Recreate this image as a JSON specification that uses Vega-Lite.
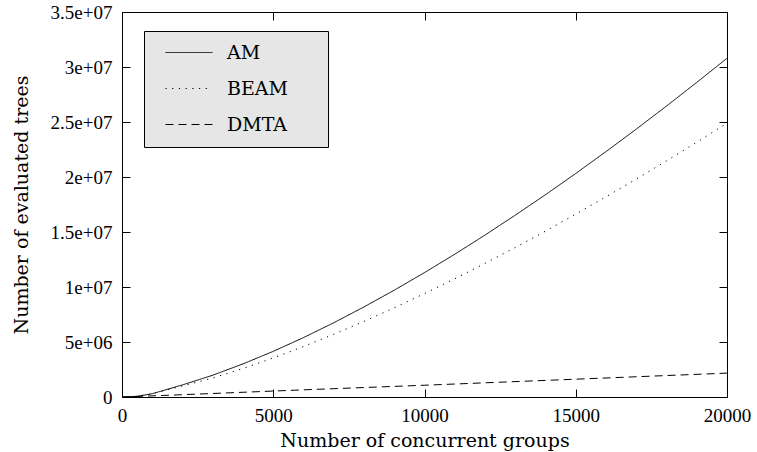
{
  "$schema": "https://vega.github.io/schema/vega-lite/v6.json",
  "width": 605,
  "height": 385,
  "autosize": {"type": "none"},
  "padding": {"left": 122, "top": 12, "right": 30, "bottom": 55},
  "background": "white",
  "config": {
    "view": {"stroke": "black", "strokeWidth": 1},
    "axis": {
      "domain": false,
      "grid": false,
      "tickColor": "black",
      "tickSize": 8,
      "offset": -8,
      "labelFlush": false,
      "labelFont": "Liberation Serif",
      "labelFontSize": 19,
      "labelColor": "black",
      "titleFont": "DejaVu Serif",
      "titleFontSize": 19,
      "titleFontWeight": "normal",
      "titleColor": "black"
    },
    "legend": {
      "labelFont": "DejaVu Serif",
      "labelFontSize": 19,
      "labelColor": "black"
    }
  },
  "data": {
    "values": [
      {"groups": 0, "trees": 0, "algorithm": "AM"},
      {"groups": 500, "trees": 60000, "algorithm": "AM"},
      {"groups": 1000, "trees": 300000, "algorithm": "AM"},
      {"groups": 2000, "trees": 1100000, "algorithm": "AM"},
      {"groups": 3000, "trees": 1980000, "algorithm": "AM"},
      {"groups": 4000, "trees": 3010000, "algorithm": "AM"},
      {"groups": 5000, "trees": 4150000, "algorithm": "AM"},
      {"groups": 6000, "trees": 5400000, "algorithm": "AM"},
      {"groups": 7000, "trees": 6750000, "algorithm": "AM"},
      {"groups": 8000, "trees": 8190000, "algorithm": "AM"},
      {"groups": 9000, "trees": 9710000, "algorithm": "AM"},
      {"groups": 10000, "trees": 11310000, "algorithm": "AM"},
      {"groups": 11000, "trees": 12980000, "algorithm": "AM"},
      {"groups": 12000, "trees": 14720000, "algorithm": "AM"},
      {"groups": 13000, "trees": 16530000, "algorithm": "AM"},
      {"groups": 14000, "trees": 18390000, "algorithm": "AM"},
      {"groups": 15000, "trees": 20320000, "algorithm": "AM"},
      {"groups": 16000, "trees": 22310000, "algorithm": "AM"},
      {"groups": 17000, "trees": 24350000, "algorithm": "AM"},
      {"groups": 18000, "trees": 26450000, "algorithm": "AM"},
      {"groups": 19000, "trees": 28600000, "algorithm": "AM"},
      {"groups": 20000, "trees": 30790000, "algorithm": "AM"},
      {"groups": 0, "trees": 0, "algorithm": "BEAM"},
      {"groups": 500, "trees": 60000, "algorithm": "BEAM"},
      {"groups": 1000, "trees": 300000, "algorithm": "BEAM"},
      {"groups": 2000, "trees": 1000000, "algorithm": "BEAM"},
      {"groups": 3000, "trees": 1730000, "algorithm": "BEAM"},
      {"groups": 4000, "trees": 2590000, "algorithm": "BEAM"},
      {"groups": 5000, "trees": 3550000, "algorithm": "BEAM"},
      {"groups": 6000, "trees": 4590000, "algorithm": "BEAM"},
      {"groups": 7000, "trees": 5700000, "algorithm": "BEAM"},
      {"groups": 8000, "trees": 6870000, "algorithm": "BEAM"},
      {"groups": 9000, "trees": 8110000, "algorithm": "BEAM"},
      {"groups": 10000, "trees": 9400000, "algorithm": "BEAM"},
      {"groups": 11000, "trees": 10750000, "algorithm": "BEAM"},
      {"groups": 12000, "trees": 12150000, "algorithm": "BEAM"},
      {"groups": 13000, "trees": 13590000, "algorithm": "BEAM"},
      {"groups": 14000, "trees": 15080000, "algorithm": "BEAM"},
      {"groups": 15000, "trees": 16630000, "algorithm": "BEAM"},
      {"groups": 16000, "trees": 18200000, "algorithm": "BEAM"},
      {"groups": 17000, "trees": 19810000, "algorithm": "BEAM"},
      {"groups": 18000, "trees": 21470000, "algorithm": "BEAM"},
      {"groups": 19000, "trees": 23160000, "algorithm": "BEAM"},
      {"groups": 20000, "trees": 24890000, "algorithm": "BEAM"},
      {"groups": 0, "trees": 0, "algorithm": "DMTA"},
      {"groups": 2000, "trees": 210000, "algorithm": "DMTA"},
      {"groups": 4000, "trees": 430000, "algorithm": "DMTA"},
      {"groups": 6000, "trees": 650000, "algorithm": "DMTA"},
      {"groups": 8000, "trees": 860000, "algorithm": "DMTA"},
      {"groups": 10000, "trees": 1070000, "algorithm": "DMTA"},
      {"groups": 12000, "trees": 1290000, "algorithm": "DMTA"},
      {"groups": 14000, "trees": 1510000, "algorithm": "DMTA"},
      {"groups": 16000, "trees": 1730000, "algorithm": "DMTA"},
      {"groups": 18000, "trees": 1950000, "algorithm": "DMTA"},
      {"groups": 20000, "trees": 2170000, "algorithm": "DMTA"}
    ]
  },
  "layer": [
    {
      "mark": {"type": "line", "color": "black", "strokeWidth": 1},
      "encoding": {
        "x": {
          "field": "groups", "type": "quantitative",
          "scale": {"domain": [0, 20000], "nice": false, "zero": false},
          "axis": {
            "orient": "bottom",
            "values": [0, 5000, 10000, 15000, 20000],
            "format": "d",
            "labelPadding": 9,
            "title": "Number of concurrent groups",
            "titlePadding": 6
          }
        },
        "y": {
          "field": "trees", "type": "quantitative",
          "scale": {"domain": [0, 35000000], "nice": false, "zero": false},
          "axis": {
            "orient": "left",
            "values": [0, 5000000, 10000000, 15000000, 20000000, 25000000, 30000000, 35000000],
            "labelExpr": "datum.value == 0 ? '0' : replace(format(datum.value, '~e'), 'e+', 'e+0')",
            "labelPadding": 10,
            "title": "Number of evaluated trees",
            "titlePadding": 19
          }
        },
        "strokeDash": {
          "field": "algorithm", "type": "nominal",
          "scale": {"domain": ["AM", "BEAM", "DMTA"], "range": [[1, 0], [1.2, 5.5], [8, 5]]},
          "legend": {
            "title": null,
            "orient": "none",
            "legendX": 22,
            "legendY": 19,
            "fillColor": "#e6e6e6",
            "strokeColor": "black",
            "padding": 12,
            "symbolType": "M0,0H8",
            "symbolSize": 138,
            "symbolStrokeColor": "black",
            "symbolStrokeWidth": 1,
            "labelOffset": 52,
            "rowPadding": 16,
            "labelExpr": "datum.label + '\u2800\u2800'"
          }
        }
      }
    },
    {
      "mark": {"type": "line", "strokeOpacity": 0},
      "encoding": {
        "x": {
          "field": "groups", "type": "quantitative",
          "axis": {"orient": "top", "values": [0, 5000, 10000, 15000, 20000], "labels": false, "title": null}
        },
        "y": {
          "field": "trees", "type": "quantitative",
          "axis": {"orient": "right", "values": [0, 5000000, 10000000, 15000000, 20000000, 25000000, 30000000, 35000000], "labels": false, "title": null}
        },
        "detail": {"field": "algorithm", "type": "nominal"}
      }
    }
  ],
  "resolve": {"axis": {"x": "independent", "y": "independent"}}
}
